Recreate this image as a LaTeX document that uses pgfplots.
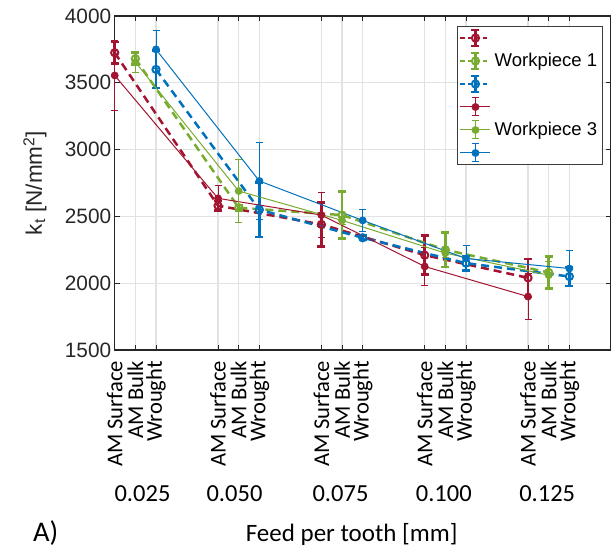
\documentclass[border=0pt]{standalone}
\usepackage{pgfplots}
\usepackage{pgfplotstable}
\pgfplotsset{compat=1.18}
\usepackage{fontspec}
\setmainfont{Liberation Sans}
\newfontfamily\calibri{Carlito}
\definecolor{cR}{HTML}{A2142F}
\definecolor{cG}{HTML}{77AC30}
\definecolor{cB}{HTML}{0072BD}
\definecolor{axc}{HTML}{262626}
\definecolor{gridc}{HTML}{E2E2E2}

% Workpiece 1 (dashed)
\pgfplotstableread{
x y e
1 3725 80
6 2580 35
11 2440 165
16 2210 145
21 2040 142
}\redA
\pgfplotstableread{
x y e
2 3680 45
7 2565 20
12 2510 175
17 2250 130
22 2080 120
}\greenA
\pgfplotstableread{
x y e
3 3600 140
8 2550 205
13 2340 15
18 2150 55
23 2050 70
}\blueA
% Workpiece 3 (solid)
\pgfplotstableread{
x y e
1 3555 262
6 2635 95
11 2510 170
16 2125 145
21 1900 175
}\redB
\pgfplotstableread{
x y e
2 3655 75
7 2690 235
12 2470 30
17 2225 30
22 2060 100
}\greenB
\pgfplotstableread{
x y e
3 3750 145
8 2765 290
13 2470 80
18 2185 95
23 2110 135
}\blueB

\pgfplotsset{
  dashser/.style={line width=2.5pt, dash pattern=on 8pt off 5pt,
    mark=o, mark size=3.6pt, mark options={solid, line width=2pt},
    error bars/y dir=both, error bars/y explicit,
    error bars/error bar style={solid, line width=2.6pt},
    error bars/error mark options={rotate=90, solid, line width=2.6pt, mark size=4pt},
    legend image code/.code={
      \draw[##1, mark=none, dash pattern=on 4.5pt off 3pt] (0pt,0pt) -- (30pt,0pt);
      \draw[##1, solid, mark=none, line width=2.6pt] (15pt,-8pt) -- (15pt,8pt);
      \draw[##1, solid, mark=none, line width=2.6pt] (11pt,-8pt) -- (19pt,-8pt) (11pt,8pt) -- (19pt,8pt);
      \draw[##1, solid] plot coordinates {(15pt,0pt)};
    }},
  solidser/.style={line width=1pt, solid,
    mark=*, mark size=3.4pt, mark options={solid},
    error bars/y dir=both, error bars/y explicit,
    error bars/error bar style={solid, line width=1pt},
    error bars/error mark options={rotate=90, solid, line width=1pt, mark size=3.5pt},
    legend image code/.code={
      \draw[##1, mark=none] (0pt,0pt) -- (30pt,0pt);
      \draw[##1, solid, mark=none] (15pt,-9pt) -- (15pt,9pt);
      \draw[##1, solid, mark=none] (11.5pt,-9pt) -- (18.5pt,-9pt) (11.5pt,9pt) -- (18.5pt,9pt);
      \draw[##1, solid] plot coordinates {(15pt,0pt)};
    }},
}

\begin{document}
\begin{tikzpicture}
\begin{axis}[
  at={(0pt,0pt)}, anchor=south west,
  scale only axis, width=496pt, height=334pt,
  xmin=1, xmax=25, ymin=1500, ymax=4000,
  clip=false,
  axis line style={draw=axc, line width=1.2pt},
  tick style={draw=axc, line width=1pt},
  tick align=inside, major tick length=5pt,
  xtick pos=both, ytick pos=both,
  xticklabel pos=lower, yticklabel pos=left,
  xtick={1,2,3,6,7,8,11,12,13,16,17,18,21,22,23},
  xticklabels={AM Surface,AM Bulk,Wrought,AM Surface,AM Bulk,Wrought,AM Surface,AM Bulk,Wrought,AM Surface,AM Bulk,Wrought,AM Surface,AM Bulk,Wrought},
  xticklabel style={rotate=90, anchor=east, inner sep=0pt, font=\calibri\fontsize{22.6}{26}\selectfont},
  xticklabel shift=11pt,
  ytick={1500,2000,2500,3000,3500,4000},
  yticklabel style={font=\fontsize{20.8}{24}\selectfont, text=axc},
  /pgf/number format/assume math mode=true,
  /pgf/number format/set thousands separator={},
  grid=major,
  major grid style={draw=gridc, line width=1.2pt},
  legend style={at={(axis description cs:1,1)}, anchor=north east, xshift=-8pt, yshift=-10pt,
    draw=axc!90, line width=1pt, fill=white, inner xsep=2pt, inner ysep=0pt,
    font=\fontsize{18.5}{21}\selectfont,
    nodes={minimum height=23pt, inner ysep=0pt, inner xsep=3pt},
    cells={anchor=west}, row sep=0pt},
]
\addplot[dashser, color=cR] table[x=x, y=y, y error=e] {\redA};
\addlegendentry{\mbox{}}
\addplot[dashser, color=cG] table[x=x, y=y, y error=e] {\greenA};
\addlegendentry{Workpiece 1}
\addplot[dashser, color=cB] table[x=x, y=y, y error=e] {\blueA};
\addlegendentry{\mbox{}}
\addplot[solidser, color=cR] table[x=x, y=y, y error=e] {\redB};
\addlegendentry{\mbox{}}
\addplot[solidser, color=cG] table[x=x, y=y, y error=e] {\greenB};
\addlegendentry{Workpiece 3}
\addplot[solidser, color=cB] table[x=x, y=y, y error=e] {\blueB};
\addlegendentry{\mbox{}}
\end{axis}
% group labels and other texts
\begin{scope}[every node/.style={inner sep=0pt}]
\node[anchor=base, font=\calibri\fontsize{24.5}{28}\selectfont] at (27.8pt,-151.7pt) {0.025};
\node[anchor=base, font=\calibri\fontsize{24.5}{28}\selectfont] at (119.8pt,-151.7pt) {0.050};
\node[anchor=base, font=\calibri\fontsize{24.5}{28}\selectfont] at (225.8pt,-151.7pt) {0.075};
\node[anchor=base, font=\calibri\fontsize{24.5}{28}\selectfont] at (329.1pt,-151.7pt) {0.100};
\node[anchor=base, font=\calibri\fontsize{24.5}{28}\selectfont] at (432.5pt,-151.7pt) {0.125};
\node[anchor=base, font=\calibri\fontsize{25}{29}\selectfont] at (237pt,-191.7pt) {Feed per tooth [mm]};
\node[anchor=base west, font=\calibri\fontsize{28.5}{32}\selectfont] at (-81.7pt,-191.7pt) {A)};
\node[rotate=90, font=\fontsize{22.5}{26}\selectfont, text=axc] at (-79.7pt,167pt) {k\textsubscript{t} [N/mm\textsuperscript{2}]};
\end{scope}
\pgfresetboundingbox
\path[use as bounding box] (-114.7pt,-198pt) rectangle (496.3pt,350pt);
\end{tikzpicture}
\end{document}
